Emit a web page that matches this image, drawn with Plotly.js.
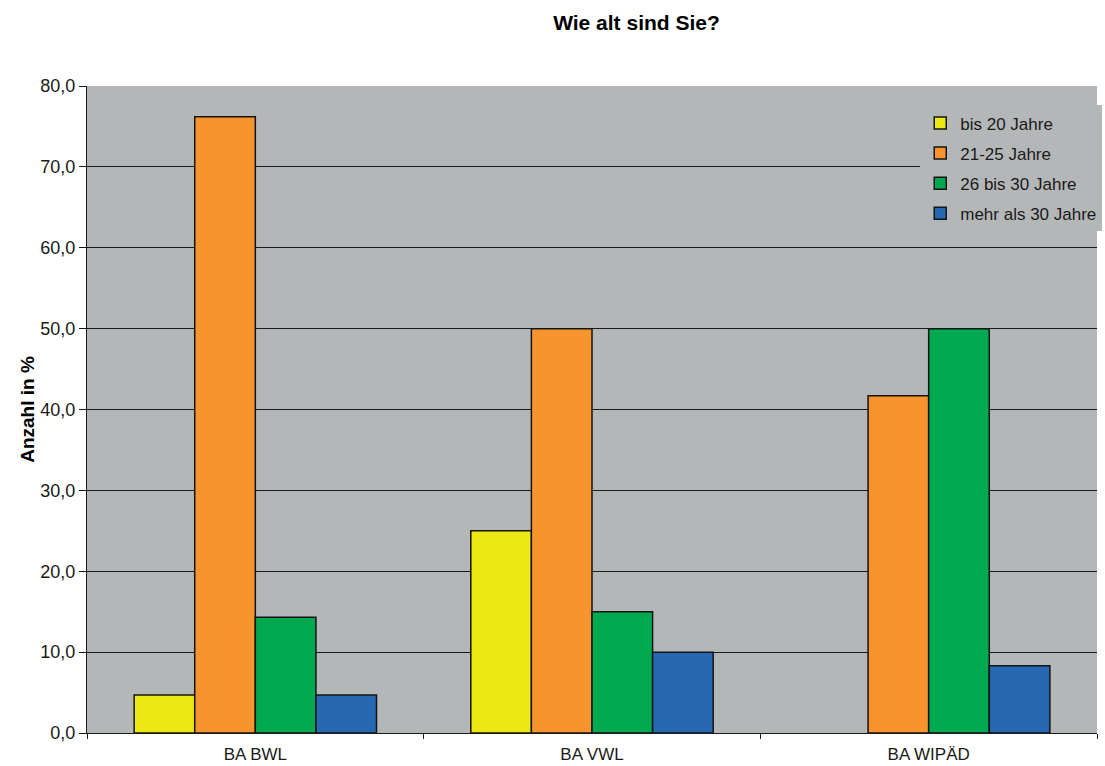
<!DOCTYPE html>
<html>
<head>
<meta charset="utf-8">
<script src="https://cdn.plot.ly/plotly-3.0.1.min.js"></script>
<style>html,body{margin:0;padding:0;background:#fff;}#chart{width:1105px;height:766px;}</style>
</head>
<body>
<div id="chart"></div>
<script>
const categories = ["BA BWL", "BA VWL", "BA WIPÄD"];
const seriesNames = ["bis 20 Jahre", "21-25 Jahre", "26 bis 30 Jahre", "mehr als 30 Jahre"];
const bis20 = [4.7, 25.0, null];   // no bar drawn for BA WIPÄD (0 %)
const j21_25 = [76.2, 50.0, 41.7];
const j26_30 = [14.3, 15.0, 50.0];
const mehr30 = [4.7, 10.0, 8.3];
const colors = ["#ebe814", "#f7942d", "#00a84f", "#2768b2"];
const yTicks = [0, 10, 20, 30, 40, 50, 60, 70, 80];

const seriesValues = [bis20, j21_25, j26_30, mehr30];
const traces = seriesValues.map((vals, i) => ({
  type: "bar",
  name: seriesNames[i],
  x: categories,
  y: vals,
  legendgroup: "g" + i,
  marker: {color: colors[i], line: {color: "#141414", width: 1.5}},
  hoverinfo: "x+y+name"
}));

const font = "Liberation Sans, Arial, sans-serif";
const layout = {
  width: 1105, height: 766,
  margin: {l: 87, r: 3, t: 86, b: 33},
  paper_bgcolor: "#ffffff",
  plot_bgcolor: "#b4b7b8",
  separators: ",.",
  barmode: "group",
  bargap: 0.28,
  bargroupgap: 0,
  font: {family: font, size: 17, color: "#1a1a1a"},
  title: {text: "<b>Wie alt sind Sie?</b>", x: 0.576, xref: "container", y: 0.971, yref: "container", yanchor: "middle", font: {family: font, size: 21, color: "#000"}},
  xaxis: {
    type: "category",
    showgrid: false,
    showline: true, linecolor: "#1a1a1a", linewidth: 1,
    ticks: "outside", ticklen: 5, tickcolor: "#1a1a1a",
    tickson: "boundaries",
    ticklabelstandoff: 6,
    tickfont: {family: font, size: 17, color: "#1a1a1a"},
    zeroline: false,
    automargin: false
  },
  yaxis: {
    range: [0, 80],
    tickvals: yTicks,
    tickformat: ".1f",
    showgrid: true, gridcolor: "#1a1a1a", gridwidth: 1,
    showline: true, linecolor: "#1a1a1a", linewidth: 1,
    ticks: "outside", ticklen: 7, tickcolor: "#1a1a1a",
    tickfont: {family: font, size: 18, color: "#1a1a1a"},
    zeroline: false,
    automargin: true,
    title: {text: "<b>Anzahl in %</b>", standoff: 0, font: {family: font, size: 19, color: "#000"}}
  },
  legend: {
    x: 0.825, y: 0.97, xanchor: "left", yanchor: "top",
    bgcolor: "#b4b7b8", borderwidth: 0,
    traceorder: "grouped", tracegroupgap: 5,
    font: {family: font, size: 17, color: "#1a1a1a"},
    itemwidth: 30
  },
  showlegend: true
};

Plotly.newPlot("chart", traces, layout, {displayModeBar: false});
</script>
</body>
</html>
